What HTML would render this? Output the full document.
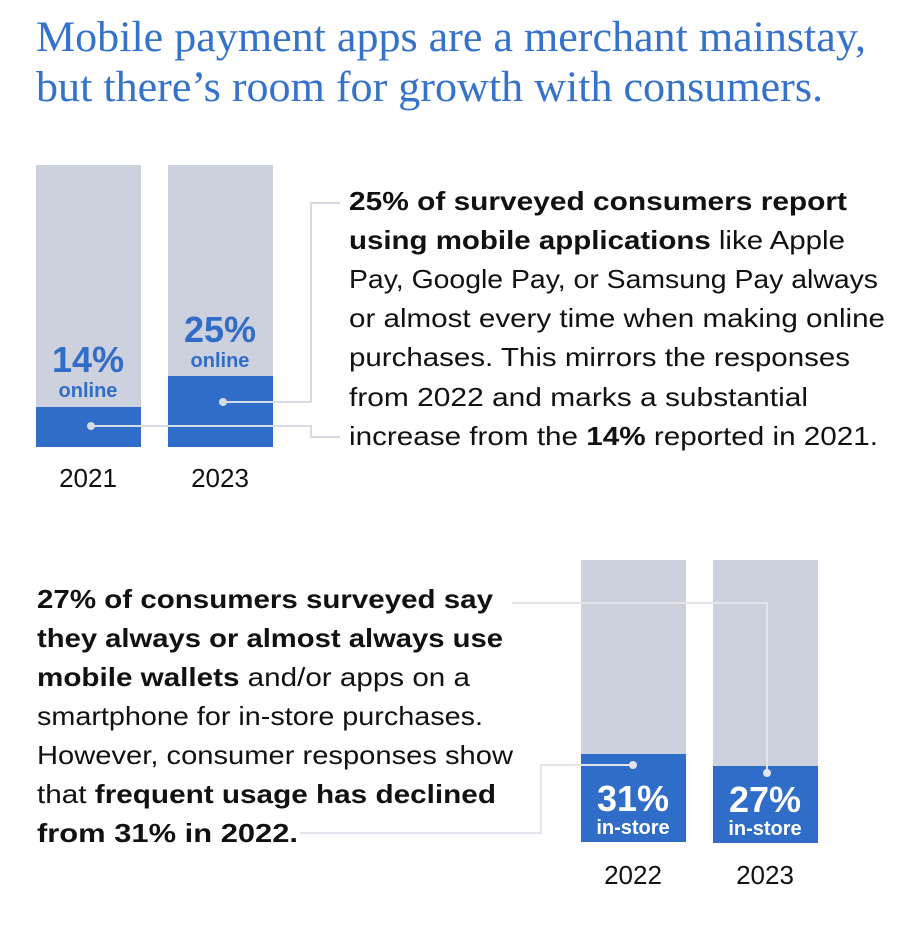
<!DOCTYPE html>
<html><head><meta charset="utf-8"><style>
html,body{margin:0;padding:0;background:#fff;width:918px;height:942px;overflow:hidden}
svg{display:block}
.b{font-family:"Liberation Sans",sans-serif;font-size:26px;fill:#111}
.k{font-weight:bold}
.t{font-family:"Liberation Serif",serif;font-size:43px;fill:#3572cc}
.v{font-family:"Liberation Sans",sans-serif;font-weight:bold;text-anchor:middle}
</style></head><body>
<svg width="918" height="942" viewBox="0 0 918 942">
<text class="t" x="36" y="51" textLength="830" lengthAdjust="spacingAndGlyphs">Mobile payment apps are a merchant mainstay,</text>
<text class="t" x="36" y="101" textLength="787" lengthAdjust="spacingAndGlyphs">but there’s room for growth with consumers.</text>

<rect x="36" y="165" width="105" height="282" fill="#cdd1dd"/>
<rect x="36" y="407" width="105" height="40" fill="#306dc8"/>
<rect x="168" y="165" width="105" height="282" fill="#cdd1dd"/>
<rect x="168" y="376" width="105" height="71" fill="#306dc8"/>
<text class="v" x="88" y="372" font-size="36" fill="#306dc8">14%</text>
<text class="v" x="88" y="397" font-size="20" fill="#306dc8">online</text>
<text class="v" x="220" y="342" font-size="36" fill="#306dc8">25%</text>
<text class="v" x="220" y="367" font-size="20" fill="#306dc8">online</text>
<g fill="none" stroke="#d6dae4" stroke-width="2">
<polyline points="91,426 311,426 311,437 340,437"/>
<polyline points="223,402 311,402 311,203 340,203"/>
</g>
<circle cx="91" cy="426" r="4" fill="#d6dae4"/>
<circle cx="223" cy="402" r="4" fill="#d6dae4"/>
<text class="b" x="88" y="487" text-anchor="middle">2021</text>
<text class="b" x="220" y="487" text-anchor="middle">2023</text>

<text class="b" x="349" y="210" textLength="498" lengthAdjust="spacingAndGlyphs"><tspan class="k">25% of surveyed consumers report</tspan></text>
<text class="b" x="349" y="249" textLength="496" lengthAdjust="spacingAndGlyphs"><tspan class="k">using mobile applications</tspan> like Apple</text>
<text class="b" x="349" y="288" textLength="529" lengthAdjust="spacingAndGlyphs">Pay, Google Pay, or Samsung Pay always</text>
<text class="b" x="349" y="327" textLength="536" lengthAdjust="spacingAndGlyphs">or almost every time when making online</text>
<text class="b" x="349" y="366" textLength="501" lengthAdjust="spacingAndGlyphs">purchases. This mirrors the responses</text>
<text class="b" x="349" y="406" textLength="459" lengthAdjust="spacingAndGlyphs">from 2022 and marks a substantial</text>
<text class="b" x="349" y="445" textLength="529" lengthAdjust="spacingAndGlyphs">increase from the <tspan class="k">14%</tspan> reported in 2021.</text>

<rect x="581" y="560" width="105" height="282" fill="#cdd1dd"/>
<rect x="581" y="754" width="105" height="88" fill="#306dc8"/>
<rect x="713" y="560" width="105" height="283" fill="#cdd1dd"/>
<rect x="713" y="766" width="105" height="77" fill="#306dc8"/>
<text class="v" x="633" y="811" font-size="36" fill="#fff">31%</text>
<text class="v" x="633" y="834" font-size="20" fill="#fff">in-store</text>
<text class="v" x="765" y="812" font-size="36" fill="#fff">27%</text>
<text class="v" x="765" y="835" font-size="20" fill="#fff">in-store</text>
<g fill="none" stroke="#e2e5ec" stroke-width="2">
<polyline points="512,603 767,603 767,773"/>
<polyline points="633,765 541,765 541,833 300,833"/>
</g>
<circle cx="767" cy="773" r="4" fill="#e2e5ec"/>
<circle cx="633" cy="765" r="4" fill="#e2e5ec"/>
<text class="b" x="633" y="884" text-anchor="middle">2022</text>
<text class="b" x="765" y="884" text-anchor="middle">2023</text>

<text class="b" x="37" y="608" textLength="456" lengthAdjust="spacingAndGlyphs"><tspan class="k">27% of consumers surveyed say</tspan></text>
<text class="b" x="37" y="647" textLength="466" lengthAdjust="spacingAndGlyphs"><tspan class="k">they always or almost always use</tspan></text>
<text class="b" x="37" y="686" textLength="433" lengthAdjust="spacingAndGlyphs"><tspan class="k">mobile wallets</tspan> and/or apps on a</text>
<text class="b" x="37" y="725" textLength="446" lengthAdjust="spacingAndGlyphs">smartphone for in-store purchases.</text>
<text class="b" x="37" y="764" textLength="476" lengthAdjust="spacingAndGlyphs">However, consumer responses show</text>
<text class="b" x="37" y="803" textLength="459" lengthAdjust="spacingAndGlyphs">that <tspan class="k">frequent usage has declined</tspan></text>
<text class="b" x="37" y="842" textLength="261" lengthAdjust="spacingAndGlyphs"><tspan class="k">from 31% in 2022.</tspan></text>
</svg>
</body></html>
